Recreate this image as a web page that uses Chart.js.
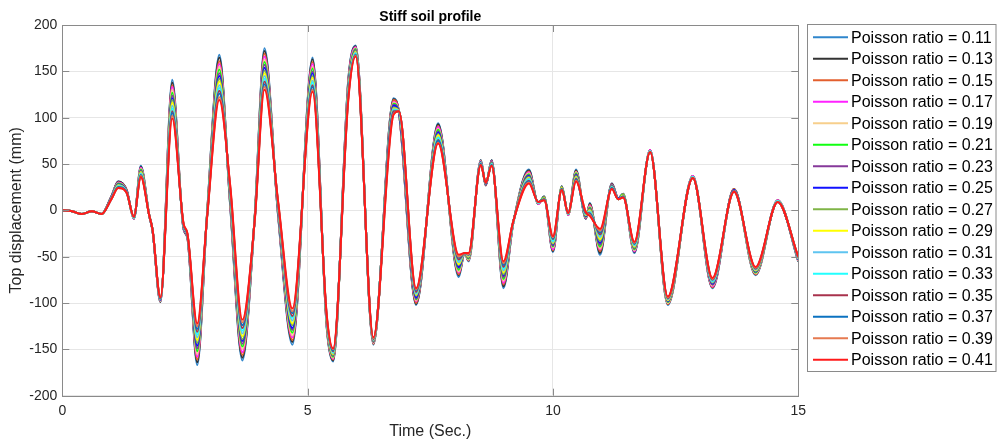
<!DOCTYPE html>
<html>
<head>
<meta charset="utf-8">
<script src="https://cdn.jsdelivr.net/npm/chart.js@4.4.1/dist/chart.umd.min.js"></script>
<style>
    html, body { margin: 0; padding: 0; background: #fff; }
    #wrap { width: 1004px; height: 443px; }
</style>
</head>
<body>
<div id="wrap"><canvas id="c" width="1004" height="443"></canvas></div>
<script>
// time axis (s) - picked at the peaks, troughs and kinks of the records
const times = [0, 0.2, 0.4, 0.6, 0.8, 1.0, 1.14, 1.31, 1.46, 1.6,
    1.77, 1.84, 2.0, 2.24, 2.47, 2.55, 2.75, 2.95, 3.2, 3.42,
    3.67, 3.92, 4.12, 4.4, 4.69, 5.1, 5.39, 5.52, 5.83, 5.98,
    6.34, 6.75, 6.86, 7.21, 7.66, 8.08, 8.2, 8.28, 8.53, 8.63,
    8.75, 8.99, 9.19, 9.51, 9.7, 9.82, 10.0, 10.18, 10.31, 10.47,
    10.67, 10.75, 10.96, 11.2, 11.33, 11.43, 11.66, 11.98, 12.34, 12.85,
    13.25, 13.69, 14.13, 14.58, 15]

// top displacement (mm), one array per poisson ratio
const nu11 = [0, -1, -4, -1, -4, 15, 31, 22, -9, 48, -5, -22, -99, 141, -20, -30, -167, -4, 168, 6, -162, -8, 175, -7, -145, 165, -127, -163, 142, 178, -145, 121, 106, -102, 94, -72, -46, -55, 54, 27, 54, -84, -14, 44, 7, 15, -45, 26, -5, 44, -9, 8, -48, 29, 13, 18, -46, 65, -102, 37, -84, 23, -70, 11, -55]
const nu13 = [0, -1, -4, -1, -4, 15, 31, 22, -9, 47, -5, -22, -99, 138, -20, -30, -164, -4, 165, 7, -159, -8, 172, -6, -142, 163, -126, -162, 141, 177, -144, 120, 106, -101, 93, -70, -46, -54, 54, 27, 54, -82, -14, 43, 7, 15, -44, 26, -5, 43, -9, 7, -46, 29, 13, 18, -45, 65, -101, 37, -83, 23, -69, 11, -55]
const nu15 = [0, -1, -4, -1, -4, 15, 30, 22, -9, 46, -5, -22, -98, 135, -19, -29, -161, -5, 161, 9, -156, -9, 169, -5, -140, 160, -125, -161, 139, 176, -144, 119, 106, -100, 91, -69, -46, -54, 53, 27, 53, -80, -14, 42, 7, 14, -43, 25, -5, 42, -8, 6, -44, 28, 13, 17, -44, 65, -101, 37, -83, 23, -69, 11, -54]
const nu17 = [0, -1, -4, -1, -4, 14, 30, 21, -9, 46, -5, -22, -98, 133, -19, -29, -158, -5, 158, 10, -153, -9, 166, -4, -137, 158, -124, -160, 138, 176, -143, 117, 106, -98, 90, -67, -46, -53, 53, 28, 53, -78, -14, 41, 7, 14, -42, 25, -5, 41, -8, 5, -42, 28, 13, 17, -44, 65, -100, 37, -82, 22, -68, 11, -54]
const nu19 = [0, -1, -4, -1, -4, 14, 29, 21, -8, 45, -5, -22, -98, 130, -18, -29, -155, -5, 155, 12, -150, -9, 163, -3, -135, 155, -123, -159, 136, 175, -143, 116, 106, -97, 88, -66, -46, -53, 53, 28, 52, -76, -13, 40, 8, 14, -40, 25, -4, 41, -7, 4, -41, 27, 13, 17, -43, 64, -100, 36, -81, 22, -68, 10, -54]
const nu21 = [0, -1, -4, -1, -4, 14, 29, 21, -8, 44, -5, -22, -97, 127, -18, -28, -152, -5, 152, 13, -147, -9, 160, -2, -132, 153, -122, -158, 135, 174, -142, 115, 106, -96, 87, -64, -46, -52, 52, 28, 52, -74, -13, 39, 8, 14, -39, 25, -4, 40, -7, 3, -39, 27, 13, 17, -42, 64, -99, 36, -80, 22, -67, 10, -53]
const nu23 = [0, -1, -4, -1, -4, 14, 28, 21, -8, 43, -5, -22, -97, 124, -18, -28, -149, -6, 148, 15, -144, -10, 157, -1, -129, 150, -121, -157, 133, 173, -142, 114, 106, -95, 85, -62, -46, -51, 52, 28, 52, -72, -13, 38, 8, 13, -38, 24, -4, 39, -6, 2, -37, 27, 13, 16, -41, 64, -98, 36, -80, 22, -66, 10, -53]
const nu25 = [0, -1, -4, -1, -4, 14, 28, 21, -8, 42, -5, -22, -97, 121, -17, -28, -146, -6, 145, 16, -141, -10, 154, 0, -127, 148, -120, -156, 132, 172, -141, 113, 106, -94, 84, -61, -46, -51, 52, 28, 51, -70, -13, 37, 8, 13, -37, 24, -4, 38, -6, 1, -35, 26, 13, 16, -40, 64, -98, 36, -79, 22, -66, 10, -53]
const nu27 = [0, -1, -4, -1, -4, 13, 27, 20, -8, 42, -5, -21, -96, 119, -17, -27, -143, -6, 142, 18, -139, -10, 151, 2, -124, 145, -120, -156, 130, 172, -141, 111, 107, -92, 82, -59, -46, -50, 51, 29, 51, -69, -13, 36, 8, 13, -36, 24, -4, 37, -5, 1, -33, 26, 12, 16, -40, 64, -97, 36, -78, 21, -65, 10, -52]
const nu29 = [0, -1, -4, -1, -4, 13, 27, 20, -8, 41, -5, -21, -96, 116, -16, -27, -140, -6, 139, 19, -136, -10, 148, 3, -122, 143, -119, -155, 129, 171, -140, 110, 107, -91, 81, -58, -46, -50, 51, 29, 50, -67, -13, 35, 8, 13, -35, 24, -4, 36, -5, 0, -31, 25, 12, 16, -39, 64, -97, 36, -77, 21, -65, 10, -52]
const nu31 = [0, -1, -4, -1, -4, 13, 26, 20, -8, 40, -5, -21, -96, 113, -16, -27, -137, -7, 135, 21, -133, -11, 145, 4, -119, 140, -118, -154, 127, 170, -140, 109, 107, -90, 79, -56, -46, -49, 51, 29, 50, -65, -13, 34, 8, 12, -34, 23, -4, 35, -4, -1, -29, 25, 12, 15, -38, 64, -96, 36, -77, 21, -64, 10, -52]
const nu33 = [0, -1, -4, -1, -4, 13, 26, 20, -8, 39, -5, -21, -95, 110, -16, -26, -134, -7, 132, 22, -130, -11, 142, 5, -116, 138, -117, -153, 126, 169, -139, 108, 107, -89, 78, -54, -46, -48, 50, 29, 50, -63, -13, 33, 8, 12, -33, 23, -4, 34, -4, -2, -27, 25, 12, 15, -37, 64, -95, 36, -76, 21, -63, 10, -51]
const nu35 = [0, -1, -4, -1, -4, 13, 25, 20, -7, 38, -5, -21, -95, 107, -15, -26, -131, -7, 129, 24, -127, -11, 139, 6, -114, 135, -116, -152, 124, 168, -139, 107, 107, -88, 76, -53, -46, -48, 50, 29, 49, -61, -12, 32, 9, 12, -31, 23, -3, 34, -3, -3, -26, 24, 12, 15, -36, 63, -95, 35, -75, 21, -63, 9, -51]
const nu37 = [0, -1, -4, -1, -4, 12, 25, 19, -7, 38, -5, -21, -95, 105, -15, -26, -128, -7, 126, 25, -124, -11, 136, 7, -111, 133, -115, -151, 123, 168, -138, 105, 107, -86, 75, -51, -46, -47, 50, 30, 49, -59, -12, 31, 9, 12, -30, 23, -3, 33, -3, -4, -24, 24, 12, 15, -36, 63, -94, 35, -74, 20, -62, 9, -51]
const nu39 = [0, -1, -4, -1, -4, 12, 24, 19, -7, 37, -5, -21, -94, 102, -14, -25, -125, -8, 122, 27, -121, -12, 133, 8, -109, 130, -114, -150, 121, 167, -138, 104, 107, -85, 73, -50, -46, -47, 49, 30, 48, -57, -12, 30, 9, 11, -29, 22, -3, 32, -2, -5, -22, 23, 12, 14, -35, 63, -94, 35, -74, 20, -62, 9, -50]
const nu41 = [0, -1, -4, -1, -4, 12, 24, 19, -7, 36, -5, -21, -94, 99, -14, -25, -122, -8, 119, 28, -118, -12, 130, 9, -106, 128, -113, -149, 120, 166, -137, 103, 107, -84, 72, -48, -46, -46, 49, 30, 48, -55, -12, 29, 9, 11, -28, 22, -3, 31, -2, -6, -20, 23, 12, 14, -34, 63, -93, 35, -73, 20, -61, 9, -50]

const ratios = ['0.11', '0.13', '0.15', '0.17', '0.19', '0.21', '0.23', '0.25',
    '0.27', '0.29', '0.31', '0.33', '0.35', '0.37', '0.39', '0.41']
const series = [nu11, nu13, nu15, nu17, nu19, nu21, nu23, nu25,
    nu27, nu29, nu31, nu33, nu35, nu37, nu39, nu41]
const colors = ['#2f86cc', '#333333', '#e35f2e', '#ff22ff', '#f7cf8c', '#11ff11', '#86399a', '#1111ff',
    '#7fb447', '#ffff00', '#5ec4f0', '#22ffff', '#a8324c', '#0b72c0', '#e67a50', '#ff1a1a']

const yTicks = [-200, -150, -100, -50, 0, 50, 100, 150, 200]
const xTicks = [0, 5, 10, 15]

const font = 'Arial, "Liberation Sans", Helvetica, sans-serif'

// box round the axes + inward tick marks, title and legend box (matlab look)
const decor = {
    id: 'decor',
    afterDatasetsDraw(chart) {
        const ctx = chart.ctx
        const a = chart.chartArea
        const sx = chart.scales.x, sy = chart.scales.y
        ctx.save()
        ctx.strokeStyle = '#8a8a8a'
        ctx.lineWidth = 1
        ctx.strokeRect(Math.round(a.left) + 0.5, Math.round(a.top) + 0.5,
            Math.round(a.right - a.left), Math.round(a.bottom - a.top))
        ctx.beginPath()
        yTicks.forEach(function (v) {
            const y = Math.round(sy.getPixelForValue(v)) + 0.5
            ctx.moveTo(a.left, y); ctx.lineTo(a.left + 7, y)
            ctx.moveTo(a.right, y); ctx.lineTo(a.right - 7, y)
        })
        xTicks.forEach(function (v) {
            const x = Math.round(sx.getPixelForValue(v)) + 0.5
            ctx.moveTo(x, a.bottom); ctx.lineTo(x, a.bottom - 7)
            ctx.moveTo(x, a.top); ctx.lineTo(x, a.top + 7)
        })
        ctx.stroke()
        ctx.restore()
    },
    afterDraw(chart) {
        const ctx = chart.ctx
        const a = chart.chartArea
        ctx.save()
        // title
        ctx.fillStyle = '#000'
        ctx.font = 'bold 14px ' + font
        ctx.textAlign = 'center'
        ctx.textBaseline = 'alphabetic'
        ctx.fillText('Stiff soil profile', (a.left + a.right) / 2, 21)
        // legend
        const bx = 807.5, by = 24.5, bw = 188.5, bh = 347
        ctx.fillStyle = '#fff'
        ctx.fillRect(bx, by, bw, bh)
        ctx.strokeStyle = '#8a8a8a'
        ctx.lineWidth = 1
        ctx.strokeRect(bx, by, bw, bh)
        ctx.font = '16px ' + font
        ctx.textAlign = 'left'
        ctx.textBaseline = 'middle'
        chart.data.datasets.forEach(function (ds, i) {
            const y = 37.3 + i * 21.5
            ctx.strokeStyle = ds.borderColor
            ctx.lineWidth = 2
            ctx.beginPath()
            ctx.moveTo(813, y); ctx.lineTo(848, y)
            ctx.stroke()
            ctx.fillStyle = '#000'
            ctx.fillText(ds.label, 851, y + 1)
        })
        ctx.restore()
    }
}

const datasets = series.map(function (vals, i) {
    return {
        label: 'Poisson ratio = ' + ratios[i],
        data: times.map(function (t, k) { return { x: t, y: vals[k] } }),
        borderColor: colors[i],
        backgroundColor: colors[i],
        borderWidth: 2,
        pointRadius: 0,
        cubicInterpolationMode: 'monotone',
        fill: false,
        order: series.length - i   // last ratio (red) ends up on top
    }
})

new Chart(document.getElementById('c'), {
    type: 'line',
    data: { datasets: datasets },
    options: {
        responsive: false,
        animation: false,
        devicePixelRatio: 1,
        layout: { padding: { top: 25, right: 205.7, left: 0, bottom: 0 } },
        plugins: {
            legend: { display: false },
            title: { display: false },
            tooltip: { enabled: false }
        },
        scales: {
            x: {
                type: 'linear', min: 0, max: 15,
                afterBuildTicks: function (s) { s.ticks = xTicks.map(function (v) { return { value: v } }) },
                afterFit: function (s) { s.height = 47.3 },
                ticks: { padding: 7, color: '#262626', font: { family: font, size: 14 } },
                grid: { color: '#e6e6e6', drawTicks: false },
                border: { display: false },
                title: { display: true, text: 'Time (Sec.)', color: '#262626',
                    font: { family: font, size: 16 }, padding: { top: 0, bottom: 2 } }
            },
            y: {
                type: 'linear', min: -200, max: 200,
                afterBuildTicks: function (s) { s.ticks = yTicks.map(function (v) { return { value: v } }) },
                afterFit: function (s) { s.width = 62.3 },
                ticks: { padding: 5, color: '#262626', font: { family: font, size: 14 } },
                grid: { color: '#e6e6e6', drawTicks: false },
                border: { display: false },
                title: { display: true, text: 'Top displacement (mm)', color: '#262626',
                    font: { family: font, size: 16 }, padding: { top: 7, bottom: 0 } }
            }
        }
    },
    plugins: [decor]
})
</script>
</body>
</html>
